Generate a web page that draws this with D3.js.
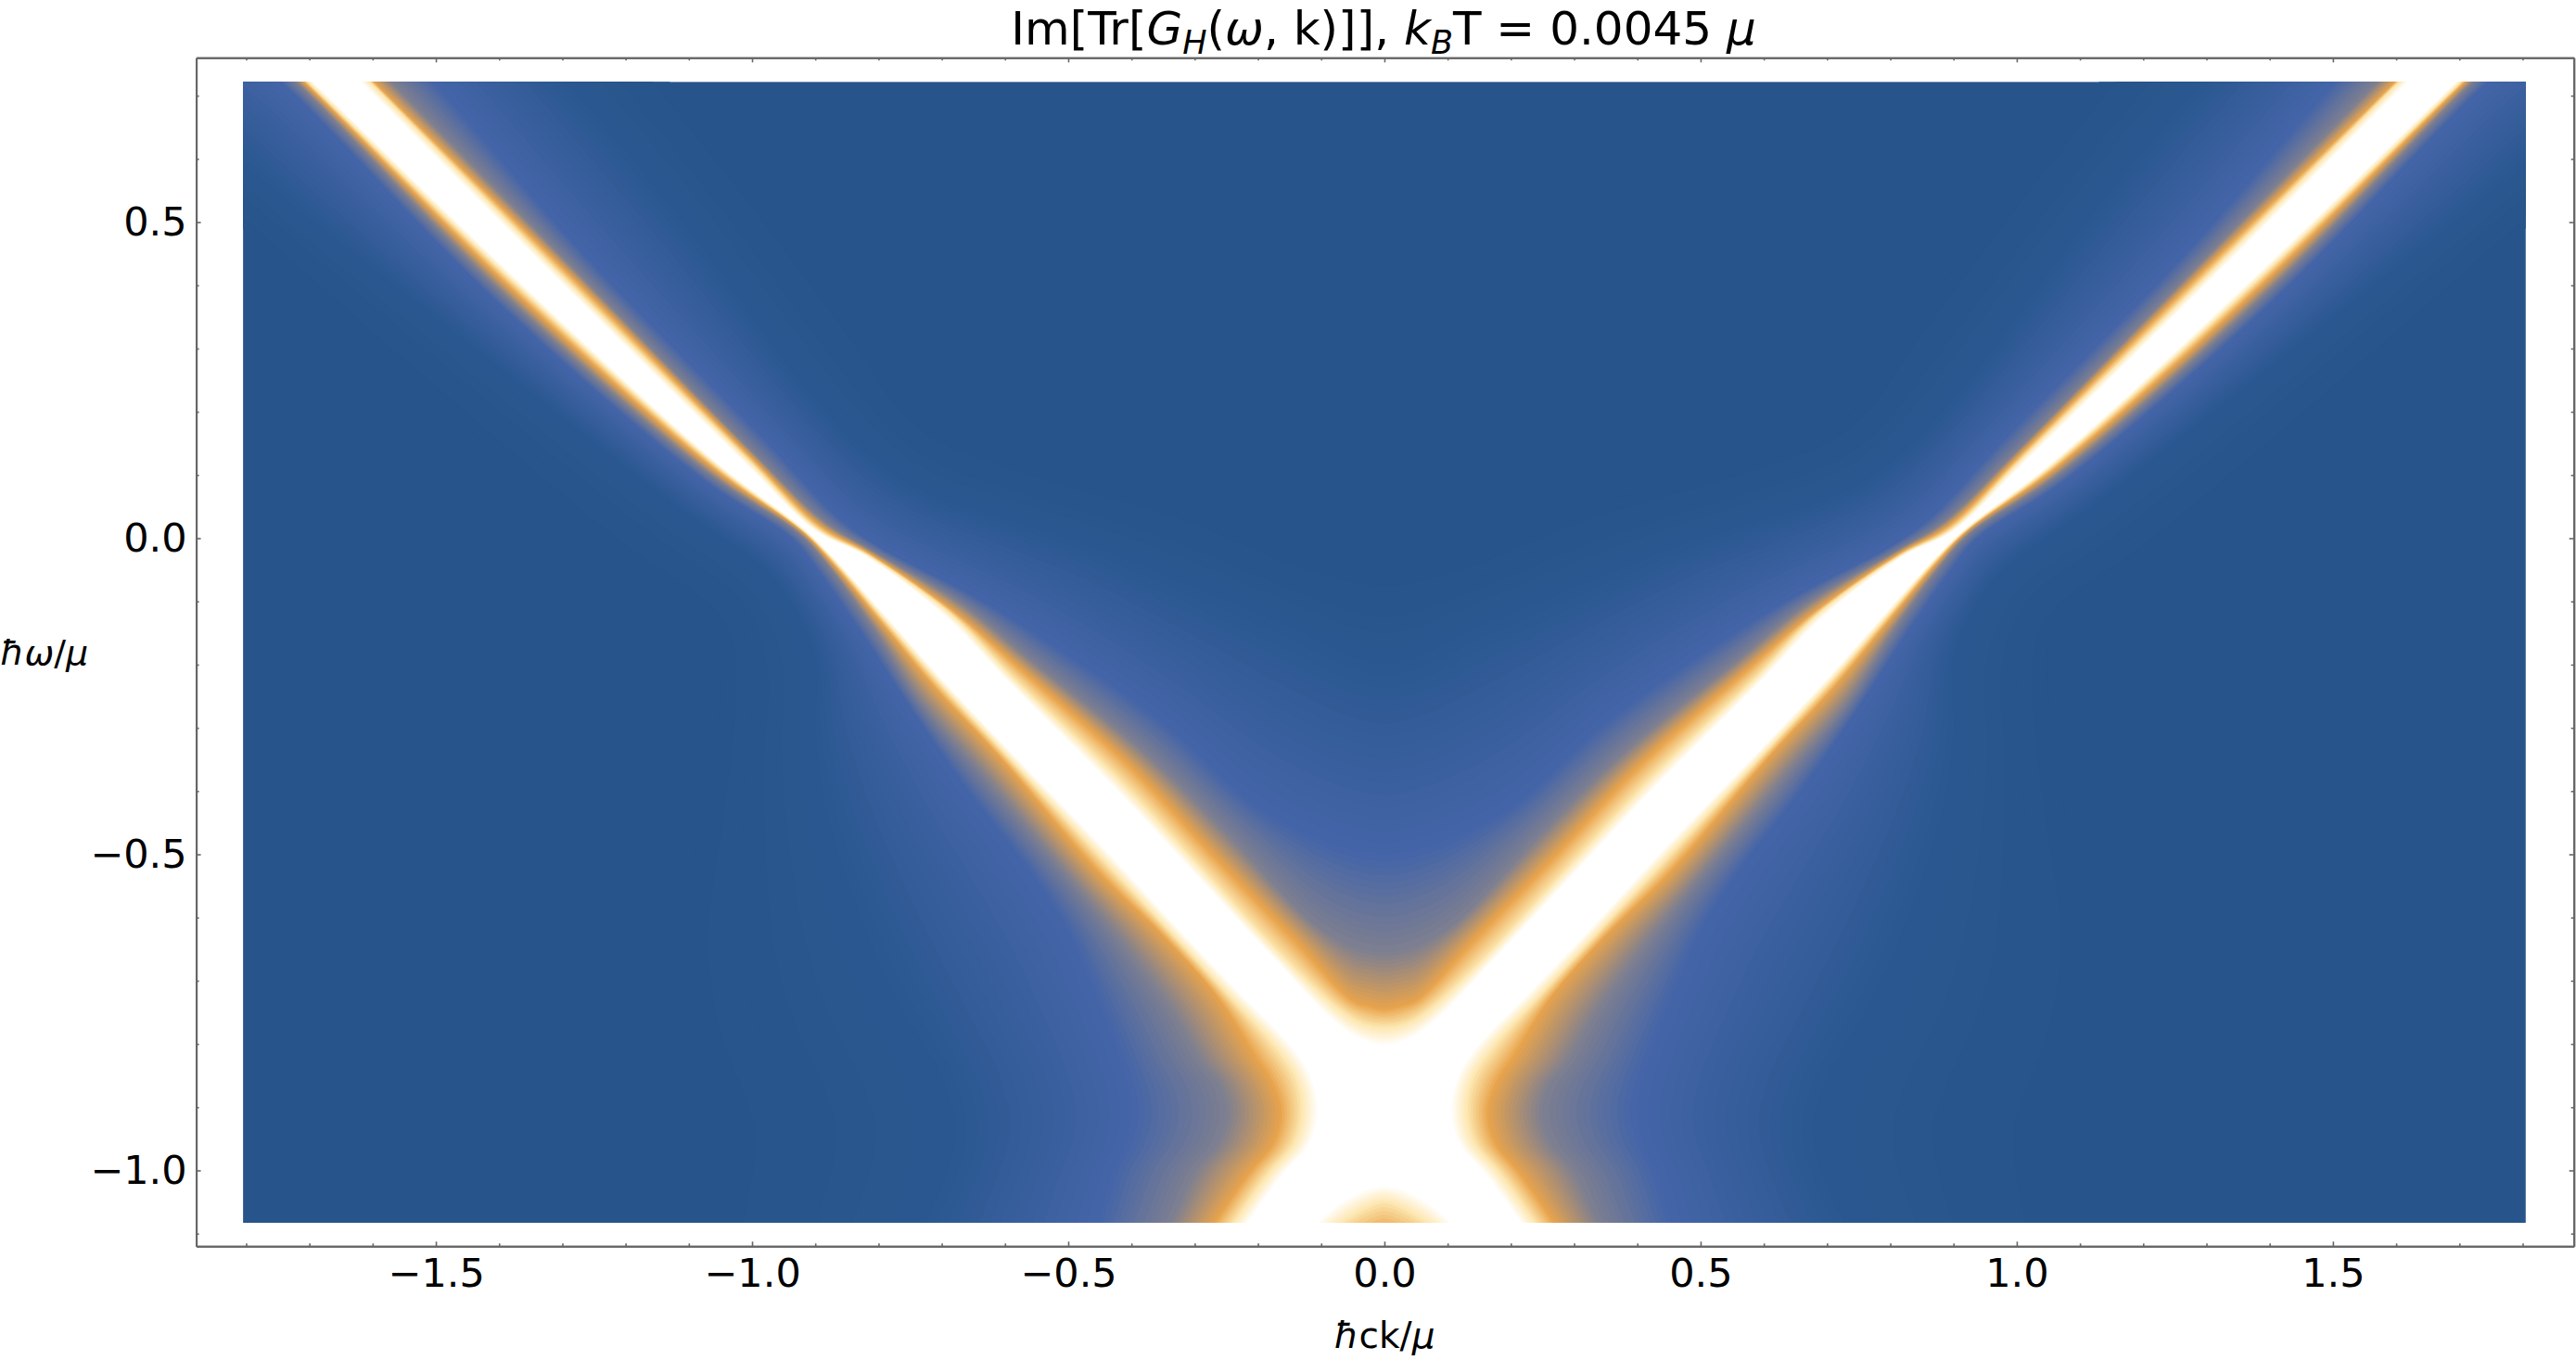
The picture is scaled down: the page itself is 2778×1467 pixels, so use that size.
<!DOCTYPE html>
<html>
<head>
<meta charset="utf-8">
<script src="https://cdn.jsdelivr.net/npm/d3@7"></script>
<style>
body { margin: 0; background: #fff; }
text { font-family: "DejaVu Sans"; fill: #000; }
</style>
</head>
<body>
<script>
// isolines of the right half as [k, omega]; the left half is the mirror
var upperBase = [[0,-.05],[.012,-.05],[.025,-.05],[.07,-.04],[.15,-.02],[.32,.05],[.47,.09],[.60,.13],[.70,.17],[.76,.22],[.83,.33],[1.05,.62],[1.32,.95],[1.57,1.2]];
var upperShade = [[0,-.20],[.012,-.198],[.025,-.195],[.07,-.18],[.15,-.14],[.32,-.07],[.47,-.01],[.60,.03],[.72,.07],[.80,.12],[.90,.22],[1.14,.54],[1.448,.892],[1.70,1.14]];
var upperPeak = [[0,-.50],[.02,-.498],[.04,-.495],[.09,-.48],[.20,-.425],[.35,-.29],[.54,-.157],[.65,-.09],[.80,-.012],[.865,.035],[.975,.153],[1.267,.452],[1.557,.783],[1.81,1.03]];
var upperGray = [[0,-.655],[.025,-.652],[.05,-.645],[.11,-.61],[.245,-.47],[.378,-.339],[.562,-.19],[.668,-.104],[.81,-.02],[.885,.026],[.995,.133],[1.287,.432],[1.594,.746],[1.844,.996]];
var upperOrange = [[0,-.743],[.025,-.738],[.05,-.73],[.14,-.635],[.27,-.50],[.40,-.361],[.577,-.204],[.68,-.116],[.814,-.024],[.892,.02],[1.0,.127],[1.295,.424],[1.608,.732],[1.858,.982]];
var upperPale = [[0,-.772],[.035,-.766],[.07,-.745],[.165,-.655],[.29,-.52],[.42,-.38],[.59,-.217],[.685,-.12],[.816,-.027],[.897,.015],[1.005,.123],[1.302,.417],[1.611,.729],[1.861,.979]];
var upperWhite = [[0,-.801],[.04,-.79],[.081,-.762],[.175,-.664],[.30,-.53],[.43,-.391],[.597,-.224],[.69,-.127],[.819,-.029],[.90,.012],[1.0098,.118],[1.308,.411],[1.618,.722],[1.868,.972]];

var outerBase = [[2.12,.79],[1.87,.55],[1.56,.27],[1.22,-.02],[1.08,-.12],[1.05,-.17],[1.05,-.25],[1.06,-.35],[1.08,-.45],[1.12,-.62],[1.12,-.72],[1.10,-.82],[1.08,-.87],[1.07,-.90],[1.06,-.93],[1.06,-.97],[1.06,-1.0],[1.07,-1.07],[1.10,-1.25]];
var outerShade = [[2.065,.842],[1.815,.602],[1.49,.34],[1.12,.05],[.98,-.05],[.94,-.10],[.90,-.19],[.90,-.31],[.88,-.44],[.82,-.62],[.78,-.71],[.73,-.80],[.70,-.85],[.69,-.88],[.68,-.91],[.68,-.96],[.69,-1.0],[.72,-1.07],[.80,-1.25]];
var outerPeak = [[1.97,.937],[1.72,.697],[1.408,.377],[1.079,.093],[.9355,-.0025],[.896,-.052],[.82,-.162],[.748,-.273],[.662,-.397],[.56,-.53],[.50,-.625],[.455,-.73],[.42,-.82],[.405,-.87],[.40,-.91],[.41,-.957],[.43,-1.0],[.45,-1.07],[.50,-1.25]];
var outerGray = [[1.958,.949],[1.708,.709],[1.396,.389],[1.069,.103],[.9255,.0075],[.883,-.039],[.805,-.147],[.7335,-.2585],[.637,-.372],[.4825,-.5575],[.42,-.635],[.34,-.745],[.29,-.83],[.262,-.865],[.25,-.909],[.265,-.957],[.30,-1.0],[.335,-1.075],[.42,-1.25]];
var outerOrange = [[1.952,.955],[1.702,.715],[1.386,.399],[1.0615,.1105],[.9215,.0115],[.878,-.034],[.794,-.136],[.7115,-.2365],[.61,-.345],[.4535,-.5285],[.35,-.63],[.262,-.73],[.21,-.815],[.18,-.862],[.166,-.909],[.178,-.957],[.215,-1.003],[.268,-1.08],[.37,-1.25]];
var outerPale = [[1.949,.958],[1.699,.718],[1.379,.406],[1.057,.115],[.92,.013],[.875,-.031],[.789,-.131],[.704,-.229],[.603,-.338],[.44,-.515],[.34,-.622],[.25,-.72],[.17,-.811],[.14,-.86],[.1327,-.909],[.145,-.957],[.185,-1.005],[.24,-1.083],[.35,-1.25]];
var outerWhite = [[1.945,.962],[1.695,.722],[1.374,.411],[1.054,.118],[.918,.015],[.873,-.029],[.785,-.127],[.699,-.224],[.597,-.332],[.43,-.505],[.329,-.615],[.236,-.713],[.142,-.811],[.114,-.86],[.1066,-.909],[.119,-.957],[.161,-1.006],[.217,-1.083],[.33,-1.25]];

// the small cap at the bottom centre
var hatFar = [[.10,-1.3],[.07,-1.3],[.05,-1.3],[.02,-1.3],[0,-1.3]];
var hatOrange = [[.11,-1.2],[.07,-1.13],[.05,-1.115],[.02,-1.105],[0,-1.10]];
var hatPale = [[.16,-1.2],[.085,-1.10],[.06,-1.08],[.025,-1.06],[0,-1.052]];
var hatWhite = [[.19,-1.2],[.104,-1.083],[.072,-1.055],[.03,-1.032],[0,-1.026]];

var levelColors = ["#27548a", "#2b5890", "#4565a8", "#80808f", "#e8a44c", "#fde7b0", "#ffffff"];
var upperLevels = [upperBase, upperShade, upperPeak, upperGray, upperOrange, upperPale, upperWhite];
var outerLevels = [outerBase, outerShade, outerPeak, outerGray, outerOrange, outerPale, outerWhite];
var hatLevels = [hatFar, hatFar, hatFar, hatFar, hatOrange, hatPale, hatWhite];
var bandSteps = [6, 16, 14, 14, 8, 8];

var kTicks = [-1.5, -1, -0.5, 0, 0.5, 1, 1.5];
var wTicks = [-1, -0.5, 0, 0.5];
var kMinor = [-1.8,-1.7,-1.6,-1.4,-1.3,-1.2,-1.1,-0.9,-0.8,-0.7,-0.6,-0.4,-0.3,-0.2,-0.1,0.1,0.2,0.3,0.4,0.6,0.7,0.8,0.9,1.1,1.2,1.3,1.4,1.6,1.7,1.8];
var wMinor = [-1.1,-0.9,-0.8,-0.7,-0.6,-0.4,-0.3,-0.2,-0.1,0.1,0.2,0.3,0.4,0.6,0.7];

var imageK = [-1.805, 1.805];
var imageW = [0.722, -1.083];

var graphics = d3.select("body").append("svg").attr("width", 2778).attr("height", 1467);

var x = d3.scaleLinear().domain([-1.879, 1.881]).range([211.6, 2775.7]);
var y = d3.scaleLinear().domain([0.76, -1.12]).range([62.3, 1344.3]);
var color = d3.scaleLinear().domain(d3.range(levelColors.length)).range(levelColors);

graphics.append("clipPath").attr("id", "image")
    .append("rect")
    .attr("x", x(imageK[0]))
    .attr("y", y(imageW[0]))
    .attr("width", x(imageK[1]) - x(imageK[0]))
    .attr("height", y(imageW[1]) - y(imageW[0]));

var field = graphics.append("g").attr("clip-path", "url(#image)");

field.append("rect")
    .attr("x", x(imageK[0]))
    .attr("y", y(imageW[0]))
    .attr("width", x(imageK[1]) - x(imageK[0]))
    .attr("height", y(imageW[1]) - y(imageW[0]))
    .attr("fill", levelColors[0]);

var line = d3.line()
    .x(function(d) { return x(d[0]); })
    .y(function(d) { return y(d[1]); })
    .curve(d3.curveCatmullRomClosed.alpha(0.5));

function mirror(points) {
    return points.map(function(d) { return [-d[0], d[1]]; }).reverse();
}

// whole outline of one level: V on top, right side, cap, left side
function outline(upper, outer, hat) {
    return mirror(upper).concat(upper.slice(1), outer, hat, mirror(hat).slice(1), mirror(outer));
}

for (var i = 0; i < bandSteps.length; i++) {
    var upperMix = d3.interpolate(upperLevels[i], upperLevels[i + 1]);
    var outerMix = d3.interpolate(outerLevels[i], outerLevels[i + 1]);
    var hatMix = d3.interpolate(hatLevels[i], hatLevels[i + 1]);
    for (var s = 0; s < bandSteps[i]; s++) {
        var t = s / bandSteps[i];
        field.append("path")
            .attr("d", line(outline(upperMix(t), outerMix(t), hatMix(t))))
            .attr("fill", color(i + t));
    }
}
field.append("path")
    .attr("d", line(outline(upperWhite, outerWhite, hatWhite)))
    .attr("fill", "#ffffff");

function tickText(d) {
    return d3.format(".1f")(d).replace("-", "\u2212");
}

function addAxis(axis, dx, dy, showLabels) {
    var g = graphics.append("g").attr("transform", "translate(" + dx + "," + dy + ")")
        .call(axis.tickSizeOuter(0));
    g.select(".domain").attr("stroke", "#666").attr("stroke-width", 2);
    g.selectAll(".tick line").attr("stroke", "#666").attr("stroke-width", 1.6);
    g.selectAll("text").attr("font-size", 43).attr("font-family", "DejaVu Sans").attr("fill", "#000");
    if (!showLabels) g.selectAll("text").remove();
    return g;
}

addAxis(d3.axisBottom(x).tickValues(kTicks).tickSizeInner(-5).tickFormat(tickText).tickPadding(13), 0, y.range()[1], true);
addAxis(d3.axisBottom(x).tickValues(kMinor).tickSizeInner(-3), 0, y.range()[1], false);
addAxis(d3.axisTop(x).tickValues(kTicks).tickSizeInner(-5), 0, y.range()[0], false);
addAxis(d3.axisTop(x).tickValues(kMinor).tickSizeInner(-3), 0, y.range()[0], false);
addAxis(d3.axisLeft(y).tickValues(wTicks).tickSizeInner(-5).tickFormat(tickText).tickPadding(10), x.range()[0], 0, true);
addAxis(d3.axisLeft(y).tickValues(wMinor).tickSizeInner(-3), x.range()[0], 0, false);
addAxis(d3.axisRight(y).tickValues(wTicks).tickSizeInner(-5), x.range()[1], 0, false);
addAxis(d3.axisRight(y).tickValues(wMinor).tickSizeInner(-3), x.range()[1], 0, false);

// title with sub-scripts
var title = graphics.append("text")
    .attr("x", 1492)
    .attr("y", 48)
    .attr("text-anchor", "middle")
    .attr("font-size", 50);
var titleParts = [
    ["Im[Tr[", 0, false], ["G", 0, true], ["H", 10, true], ["(", -10, false], ["\u03c9", 0, true],
    [", k)]], ", 0, false], ["k", 0, true], ["B", 10, true], ["T = 0.0045 ", -10, false], ["\u03bc", 0, true]
];
titleParts.forEach(function(p) {
    title.append("tspan")
        .text(p[0])
        .attr("dy", p[1])
        .attr("font-size", p[1] > 0 ? 35 : 50)
        .attr("font-style", p[2] ? "italic" : "normal");
});

var xLabel = graphics.append("text")
    .attr("x", 1493)
    .attr("y", 1454)
    .attr("text-anchor", "middle")
    .attr("font-size", 39);
xLabel.append("tspan").text("\u0127").attr("font-style", "italic");
xLabel.append("tspan").text("ck/");
xLabel.append("tspan").text("\u03bc").attr("font-style", "italic");

var yLabel = graphics.append("text")
    .attr("x", 0)
    .attr("y", 717)
    .attr("font-size", 38);
yLabel.append("tspan").text("\u0127\u03c9").attr("font-style", "italic");
yLabel.append("tspan").text("/");
yLabel.append("tspan").text("\u03bc").attr("font-style", "italic");
</script>
</body>
</html>
